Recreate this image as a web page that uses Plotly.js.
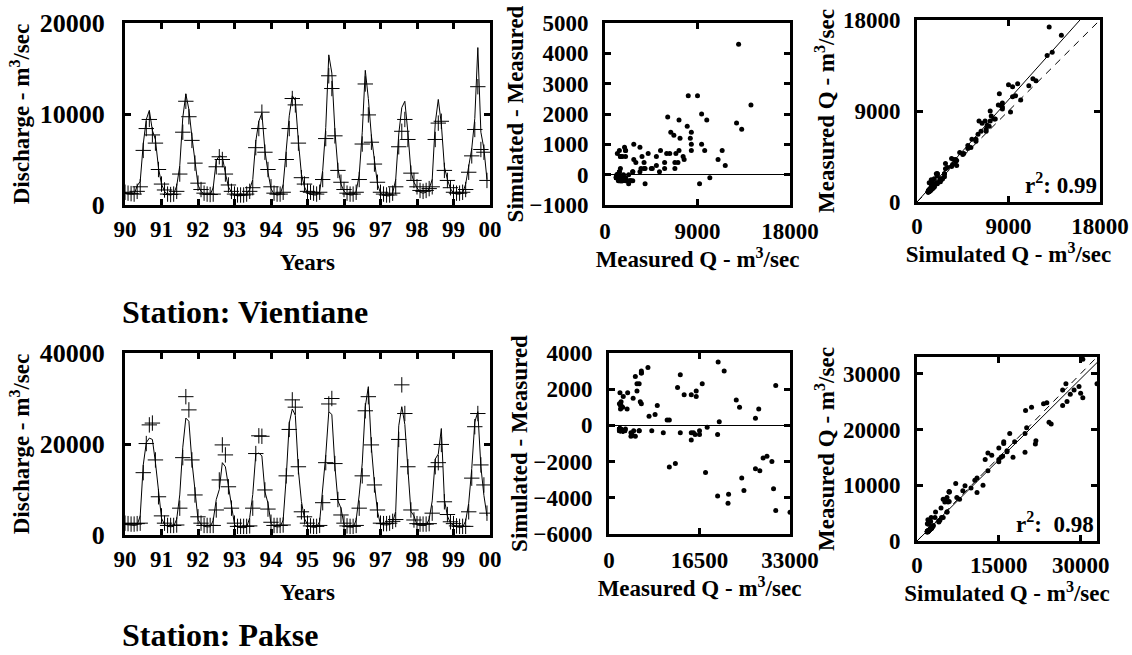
<!DOCTYPE html>
<html>
<head>
<meta charset="utf-8">
<script src="https://cdn.plot.ly/plotly-3.0.1.min.js"></script>
<style>html,body{margin:0;padding:0;background:#fff;}#chart{width:1132px;height:655px;}</style>
</head>
<body>
<div id="chart"></div>
<script>
// ---------- data (monthly, Jan 1990 .. Dec 1999) ----------
const START_YEAR = 90;
const YEAR_TICKS = ['90','91','92','93','94','95','96','97','98','99','00'];

const VIENTIANE_MEASURED = [
  1400,1300,1250,1200,1500,2000,6000,8400,9400,7700,6800,3900,
  2300,1650,1200,1150,1200,1500,3400,8000,11400,9700,7100,4600,
  2400,1700,1300,1200,1150,1200,4200,5300,5000,3400,2200,1500,
  1200,1100,1100,1100,1200,1500,1900,6300,8400,10200,5800,3900,
  2000,1300,1200,1200,1400,5000,8400,11700,11000,6800,3000,2300,
  1500,1400,1300,1200,1400,2800,7300,14200,12800,7600,3800,2500,
  1700,1300,1200,1200,1400,2800,6700,13300,9900,6900,4500,2500,
  1400,1200,1100,1100,1300,2000,6400,8100,9400,7200,3500,2700,
  2000,1600,1500,1600,1800,2000,7200,9000,9200,3800,2700,1900,
  1400,1300,1300,1400,1700,3600,5400,8300,13000,6100,5800,2700
];
const VIENTIANE_SIMULATED = [
  1400,1250,1200,1200,2100,2600,6700,9400,10400,8200,7200,4100,
  2300,1500,1150,1100,1200,2100,4300,9600,12200,10500,7500,4800,
  2200,1500,1200,1150,1150,1900,4900,5400,5300,3500,2000,1400,
  1100,1000,1000,1050,1200,1700,2800,7000,9200,10100,6000,3600,
  1800,1200,1100,1150,2200,5600,9800,12000,11500,7000,3400,2000,
  1300,1200,1100,1100,1500,3800,8500,16500,14500,8200,4000,2300,
  1500,1200,1100,1100,1500,3300,8000,14800,11700,7600,4700,2300,
  1300,1100,1000,1000,1300,2800,7800,10700,11400,8000,3700,2500,
  1900,1400,1300,1400,1800,2800,9000,11600,8900,4200,2800,1800,
  1300,1200,1200,1300,2300,4200,6200,9500,17300,8000,6200,2800
];
const PAKSE_MEASURED = [
  2600,2500,2400,2400,2500,2600,13700,20100,24200,24600,16500,8400,
  4200,2600,2100,2100,2100,2200,5900,17000,30400,27500,16500,8800,
  4000,2600,2100,2100,2100,2100,5500,12100,19800,17600,10600,5900,
  2600,1900,1900,1900,1900,2000,5900,17900,21800,21700,9900,5700,
  2800,2100,2100,2100,2200,13000,23200,29700,28100,15000,5100,4000,
  2600,2000,1900,1900,2100,7100,15900,28800,30000,15700,7800,4400,
  2600,2000,1900,1900,2100,5900,13000,27300,30400,19800,11000,5500,
  2600,2500,2500,2600,3000,3400,21000,33000,26700,15000,5500,3300,
  2500,2400,2400,2400,2500,4800,15000,15900,19900,7300,4500,2900,
  2500,2000,1900,1900,1900,5100,12500,23800,26700,15400,11000,4800
];
const PAKSE_SIMULATED = [
  2300,2200,2100,2100,2200,4200,15400,20300,21300,21000,16000,9000,
  3700,2300,1900,1800,1900,3500,8800,19300,25700,25000,16200,9900,
  3400,2300,1900,1800,1800,3200,7800,10000,15900,15000,10900,7100,
  2300,1700,1600,1600,1700,3800,8900,17800,18000,17400,9500,7000,
  2500,1900,1800,1800,3300,12600,24600,27700,26300,14200,7400,3600,
  2300,1800,1700,1700,3000,10300,17500,27100,26500,15200,7500,5900,
  2300,1800,1700,1700,3300,8800,15800,28200,32600,19300,11300,5200,
  2300,2200,2200,2300,2800,5200,24000,28200,24300,14600,5200,4200,
  2200,2100,2100,2100,3500,7500,16700,17800,23400,7800,4200,2600,
  2200,1800,1700,1700,3100,7000,14600,24800,27100,15000,8700,4200
];

const STATIONS = ['Station: Vientiane', 'Station: Pakse'];
const R2_LABELS = ['r<sup>2</sup>: 0.99', 'r<sup>2</sup>:  0.98'];

// axis ranges / ticks
const V_TS_RANGE = [0, 20000], V_TS_TICKS = [0, 10000, 20000];
const P_TS_RANGE = [0, 40000], P_TS_TICKS = [0, 20000, 40000];
const V_RES_X = [0, 18000], V_RES_XT = [0, 9000, 18000];
const V_RES_Y = [-1000, 5000], V_RES_YT = [-1000, 0, 1000, 2000, 3000, 4000, 5000];
const P_RES_X = [0, 33000], P_RES_XT = [0, 16500, 33000];
const P_RES_Y = [-6000, 4000], P_RES_YT = [-6000, -4000, -2000, 0, 2000, 4000];
const V_CMP = [0, 18000], V_CMP_T = [0, 9000, 18000];
const P_CMP = [0, 33000], P_CMP_T = [0, 10000, 20000, 30000], P_CMP_XT = [0, 15000, 30000];

// ---------- helpers ----------
const FONT = 'Liberation Serif, Times New Roman, serif';
const monthX = arr => arr.map((_, i) => START_YEAR + i / 12);
const diff = (s, m) => s.map((v, i) => v - m[i]);
const slopeThroughOrigin = (x, y) => {
  let sxy = 0, sxx = 0;
  x.forEach((v, i) => { sxy += v * y[i]; sxx += v * v; });
  return sxy / sxx;
};
const boldFont = size => ({ family: FONT, size: size, color: 'black', weight: 'bold' });

function ax(extra, isX) {
  return Object.assign({
    showline: true, mirror: 'ticks', linecolor: 'black', linewidth: 3,
    ticks: 'inside', ticklen: 6, tickwidth: 3, tickcolor: 'black',
    showgrid: false, zeroline: false, fixedrange: true,
    tickformat: 'd',
    ticklabelstandoff: isX ? 1 : 9,
    tickfont: boldFont(23)
  }, extra);
}
function ttl(text, standoff) {
  return { text: text, font: boldFont(23), standoff: standoff };
}

const traces = [];
function timeSeries(meas, sim, xa, ya) {
  const x = monthX(meas);
  traces.push({ x: x, y: sim, xaxis: xa, yaxis: ya, type: 'scatter', mode: 'lines',
    line: { color: 'black', width: 1 }, hoverinfo: 'skip' });
  traces.push({ x: x, y: meas, xaxis: xa, yaxis: ya, type: 'scatter', mode: 'markers',
    marker: { symbol: 'cross-thin', size: 11, color: 'black', line: { width: 1, color: 'black' } }, hoverinfo: 'skip' });
}
function residual(meas, sim, xa, ya) {
  traces.push({ x: meas, y: diff(sim, meas), xaxis: xa, yaxis: ya, type: 'scatter', mode: 'markers',
    marker: { size: 5, color: 'black' }, hoverinfo: 'skip', cliponaxis: true });
}
function compare(meas, sim, range, xa, ya) {
  const k = slopeThroughOrigin(meas, sim);
  traces.push({ x: range, y: range, xaxis: xa, yaxis: ya, type: 'scatter', mode: 'lines',
    line: { color: 'black', width: 1, dash: '7px,6px' }, hoverinfo: 'skip' });
  traces.push({ x: range, y: range.map(v => v * k), xaxis: xa, yaxis: ya, type: 'scatter', mode: 'lines',
    line: { color: 'black', width: 1 }, hoverinfo: 'skip' });
  traces.push({ x: meas, y: sim, xaxis: xa, yaxis: ya, type: 'scatter', mode: 'markers',
    marker: { size: 5, color: 'black' }, hoverinfo: 'skip', cliponaxis: true });
}

timeSeries(VIENTIANE_MEASURED, VIENTIANE_SIMULATED, 'x', 'y');
residual(VIENTIANE_MEASURED, VIENTIANE_SIMULATED, 'x2', 'y2');
compare(VIENTIANE_MEASURED, VIENTIANE_SIMULATED, V_CMP, 'x3', 'y3');
timeSeries(PAKSE_MEASURED, PAKSE_SIMULATED, 'x4', 'y4');
residual(PAKSE_MEASURED, PAKSE_SIMULATED, 'x5', 'y5');
compare(PAKSE_MEASURED, PAKSE_SIMULATED, P_CMP, 'x6', 'y6');

// ---------- layout ----------
const W = 1132, H = 655;
const dx = (a, b) => [a / W, b / W];
const dy = (top, bottom) => [1 - bottom / H, 1 - top / H];
const yearVals = YEAR_TICKS.map((_, i) => START_YEAR + i);
const Q_TITLE_SIM = 'Simulated Q - m<sup>3</sup>/sec';
const Q_TITLE_MEAS = 'Measured Q - m<sup>3</sup>/sec';
const DIS_TITLE = 'Discharge - m<sup>3</sup>/sec';

const layout = {
  width: W, height: H, margin: { l: 0, r: 0, t: 0, b: 0 },
  paper_bgcolor: 'white', plot_bgcolor: 'white', showlegend: false,
  font: { family: FONT, color: 'black' },
  // Vientiane
  xaxis: ax({ domain: dx(125, 490), anchor: 'y', range: [90, 100], tickvals: yearVals, ticktext: YEAR_TICKS, title: ttl('Years', 14) }, true),
  yaxis: ax({ domain: dy(23, 205), anchor: 'x', range: V_TS_RANGE, tickvals: V_TS_TICKS, title: ttl(DIS_TITLE, 4), tickfont: boldFont(26), ticklabelstandoff: 12 }),
  xaxis2: ax({ domain: dx(605, 790), anchor: 'y2', range: V_RES_X, tickvals: V_RES_XT, title: ttl(Q_TITLE_MEAS, 6), ticklabelstandoff: 3 }, true),
  yaxis2: ax({ domain: dy(23, 205), anchor: 'x2', range: V_RES_Y, tickvals: V_RES_YT, title: ttl('Simulated - Measured', 0),
    zeroline: true, zerolinecolor: 'black', zerolinewidth: 1 }),
  xaxis3: ax({ domain: dx(917, 1100), anchor: 'y3', range: V_CMP, tickvals: V_CMP_T, title: ttl(Q_TITLE_SIM, 6) }, true),
  yaxis3: ax({ domain: dy(20, 202), anchor: 'x3', range: V_CMP, tickvals: V_CMP_T, title: ttl(Q_TITLE_MEAS, 2) }),
  // Pakse
  xaxis4: ax({ domain: dx(125, 490), anchor: 'y4', range: [90, 100], tickvals: yearVals, ticktext: YEAR_TICKS, title: ttl('Years', 14) }, true),
  yaxis4: ax({ domain: dy(353, 535), anchor: 'x4', range: P_TS_RANGE, tickvals: P_TS_TICKS, title: ttl(DIS_TITLE, 4), tickfont: boldFont(26), ticklabelstandoff: 12 }),
  xaxis5: ax({ domain: dx(609, 790), anchor: 'y5', range: P_RES_X, tickvals: P_RES_XT, title: ttl(Q_TITLE_MEAS, 6), ticklabelstandoff: 3 }, true),
  yaxis5: ax({ domain: dy(353, 534), anchor: 'x5', range: P_RES_Y, tickvals: P_RES_YT, title: ttl('Simulated - Measured', 0),
    zeroline: true, zerolinecolor: 'black', zerolinewidth: 1 }),
  xaxis6: ax({ domain: dx(917, 1097), anchor: 'y6', range: P_CMP, tickvals: P_CMP_XT, title: ttl(Q_TITLE_SIM, 6) }, true),
  yaxis6: ax({ domain: dy(357, 541), anchor: 'x6', range: P_CMP, tickvals: P_CMP_T, title: ttl(Q_TITLE_MEAS, 2) }),
  annotations: [
    { text: STATIONS[0], xref: 'paper', yref: 'paper', x: 120 / W, y: 1 - 312 / H, xanchor: 'left', yanchor: 'middle',
      showarrow: false, font: boldFont(32) },
    { text: STATIONS[1], xref: 'paper', yref: 'paper', x: 120 / W, y: 0, xanchor: 'left', yanchor: 'bottom',
      showarrow: false, font: boldFont(32) },
    { text: R2_LABELS[0], xref: 'x3 domain', yref: 'y3 domain', x: 0.995, y: 0.01, xanchor: 'right', yanchor: 'bottom',
      showarrow: false, font: boldFont(23) },
    { text: R2_LABELS[1], xref: 'x6 domain', yref: 'y6 domain', x: 0.995, y: 0.01, xanchor: 'right', yanchor: 'bottom',
      showarrow: false, font: boldFont(23) }
  ]
};

Plotly.newPlot('chart', traces, layout, { staticPlot: true, displayModeBar: false });
</script>
</body>
</html>
